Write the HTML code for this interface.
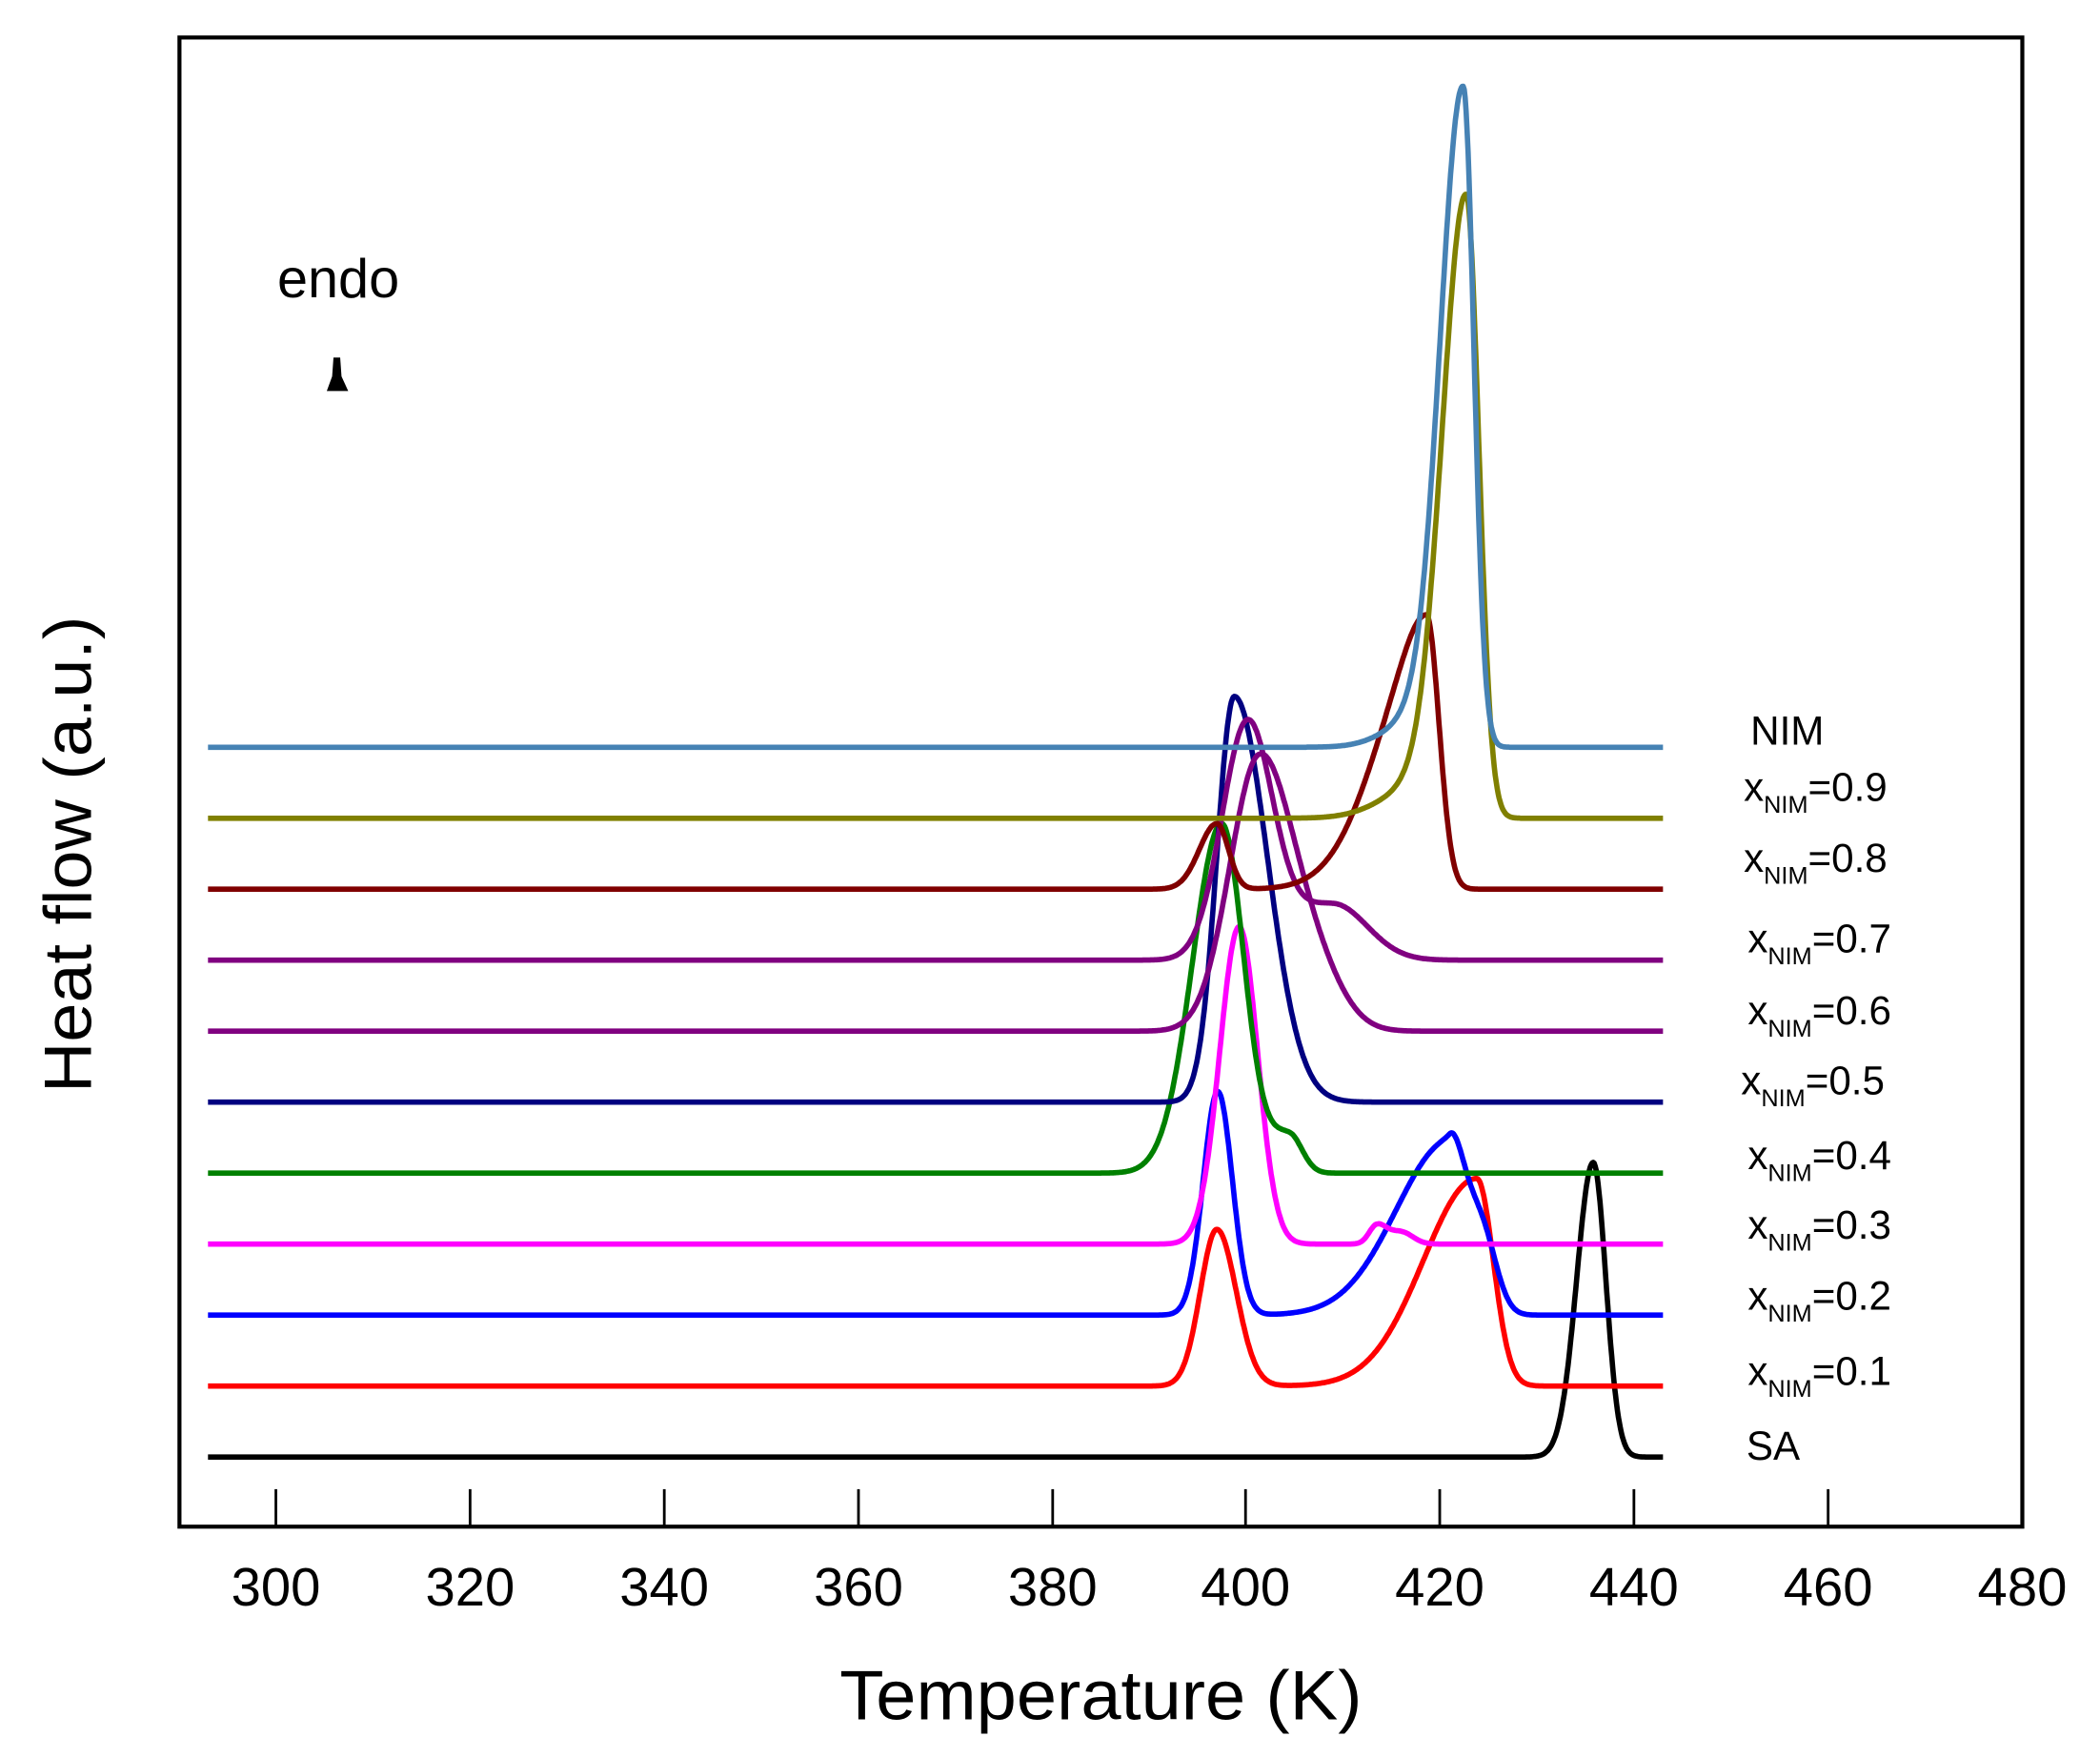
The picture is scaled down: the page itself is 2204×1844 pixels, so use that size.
<!DOCTYPE html>
<html><head><meta charset="utf-8"><style>
html,body{margin:0;padding:0;background:#fff;}
svg{display:block;}
text{font-family:"Liberation Sans",Arial,sans-serif;fill:#000;}
</style></head><body>
<svg id="s" width="2204" height="1844" viewBox="0 0 1568 1312" preserveAspectRatio="none" xmlns="http://www.w3.org/2000/svg">
<rect x="0" y="0" width="1568" height="1312" fill="#fff"/>
<rect x="134" y="28" width="1376" height="1112" fill="none" stroke="#000" stroke-width="3"/>
<g stroke="#000" stroke-width="2">
<line x1="206" y1="1112" x2="206" y2="1140"/><line x1="351" y1="1112" x2="351" y2="1140"/>
<line x1="496" y1="1112" x2="496" y2="1140"/><line x1="641" y1="1112" x2="641" y2="1140"/>
<line x1="786" y1="1112" x2="786" y2="1140"/><line x1="930" y1="1112" x2="930" y2="1140"/>
<line x1="1075" y1="1112" x2="1075" y2="1140"/><line x1="1220" y1="1112" x2="1220" y2="1140"/>
<line x1="1365" y1="1112" x2="1365" y2="1140"/>
</g>
<g font-size="40" text-anchor="middle">
<text x="206" y="1199">300</text><text x="351" y="1199">320</text><text x="496" y="1199">340</text>
<text x="641" y="1199">360</text><text x="786" y="1199">380</text><text x="930" y="1199">400</text>
<text x="1075" y="1199">420</text><text x="1220" y="1199">440</text><text x="1365" y="1199">460</text>
<text x="1510" y="1199">480</text>
</g>
<text x="822" y="1284" font-size="52" text-anchor="middle" textLength="390" lengthAdjust="spacingAndGlyphs">Temperature (K)</text>
<text transform="translate(68,638) rotate(-90)" font-size="50" text-anchor="middle" textLength="356" lengthAdjust="spacingAndGlyphs">Heat flow (a.u.)</text>
<text x="207" y="222" font-size="41">endo</text>
<path d="M249 267 L254 267 L255 281 L260 292 L244 292 L248 281 Z" fill="#000"/>
<g id="curves" fill="none" stroke-width="4" stroke-linejoin="round"></g>
<g font-size="30">
<text x="1307" y="556">NIM</text>
<text x="1302" y="598">x<tspan font-size="18" dy="9">NIM</tspan><tspan dy="-9">=0.9</tspan></text>
<text x="1302" y="651">x<tspan font-size="18" dy="9">NIM</tspan><tspan dy="-9">=0.8</tspan></text>
<text x="1305" y="711">x<tspan font-size="18" dy="9">NIM</tspan><tspan dy="-9">=0.7</tspan></text>
<text x="1305" y="765">x<tspan font-size="18" dy="9">NIM</tspan><tspan dy="-9">=0.6</tspan></text>
<text x="1300" y="817">x<tspan font-size="18" dy="9">NIM</tspan><tspan dy="-9">=0.5</tspan></text>
<text x="1305" y="873">x<tspan font-size="18" dy="9">NIM</tspan><tspan dy="-9">=0.4</tspan></text>
<text x="1305" y="925">x<tspan font-size="18" dy="9">NIM</tspan><tspan dy="-9">=0.3</tspan></text>
<text x="1305" y="978">x<tspan font-size="18" dy="9">NIM</tspan><tspan dy="-9">=0.2</tspan></text>
<text x="1305" y="1034">x<tspan font-size="18" dy="9">NIM</tspan><tspan dy="-9">=0.1</tspan></text>
<text x="1304" y="1090">SA</text>
</g>
</svg>
<script>
function ag(T,c,h,sl,sr){var s=T<c?sl:sr;var d=(T-c)/s;return h*Math.exp(-d*d/2);}
function X(T){return 206+(T-300)*7.243;}
var series=[
 {b:1088,c:"#000000",p:[[435.8,220,1.7,1.3]]},
 {b:1035,c:"#ff0000",p:[[397,117,1.7,2.0],[423.8,155,5.5,1.7]]},
 {b:982,c:"#0000ff",p:[[397.1,167,1.5,1.5],[421,130,5.5,1.6],[424.3,60,1.5,1.5]]},
 {b:929,c:"#ff00ff",p:[[399.3,237,2.0,1.9],[413.5,14,0.8,1.0],[416,9,1.2,1.2]]},
 {b:876,c:"#008000",p:[[397.5,261,3.0,2.3],[404.5,28,2,1.3]]},
 {b:823,c:"#000080",p:[[398.8,303,1.8,3.4]]},
 {b:770,c:"#800080",p:[[401.3,200,3.0,3.4],[407,40,3,3]]},
 {b:717,c:"#800080",p:[[400.1,171,2.6,2.6],[409,42,5,3.5]]},
 {b:664,c:"#800000",p:[[397,49,1.8,1.2],[418.6,180,5.0,1.3],[418.6,25,2,1.3]]},
 {b:611,c:"#808000",p:[[422.7,463,2.4,1.3],[418.5,26,4,2]]},
 {b:558,c:"#4682b4",p:[[422.4,490,2.3,1.1],[418.5,24,3.5,2]]}
];
var g=document.getElementById("curves"),html="";
series.forEach(function(s){
 var d="";
 for(var T=293;T<=443.1;T+=0.1){
  var h=0;s.p.forEach(function(q){h+=ag(T,q[0],q[1],q[2],q[3]);});
  d+=(d?"L":"M")+X(T).toFixed(1)+" "+(s.b-h).toFixed(1);
 }
 html+='<path d="'+d+'" stroke="'+s.c+'"/>';
});
g.innerHTML=html;
</script>
</body></html>
